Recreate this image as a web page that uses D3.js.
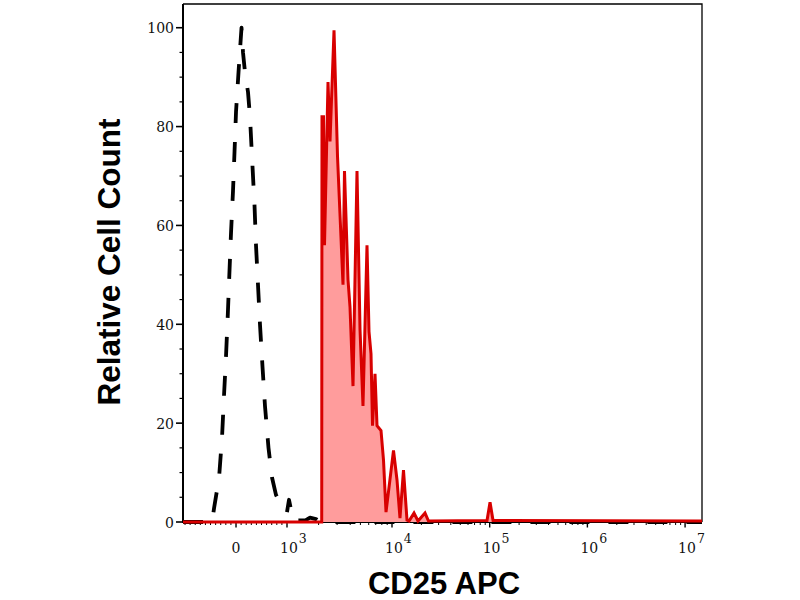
<!DOCTYPE html>
<html>
<head>
  <meta charset="utf-8">
  <title>CD25 APC histogram</title>
  <script src="https://d3js.org/d3.v7.min.js"></script>
  <style>
    body { margin: 0; background: #fff; }
    .tick text { font: 14px "DejaVu Serif", serif; fill: #111; }
    .title { font-family: "Liberation Sans", Arial, sans-serif; font-weight: bold; fill: #000; }
  </style>
</head>
<body>
  <svg width="800" height="600"></svg>
  <script>
    // isotype control (black dashed), x in fluorescence units, y in % of max
    const isoX = [-1040, -470, -431, -333, -274, -235, -196, -161, -131, -98, -59, -29, 0, 49, 88, 108,
      137, 176, 235, 274, 323, 363, 392, 431, 470, 519, 568, 637, 706, 784, 902, 1000, 1045, 1092,
      1142, 1484, 1656, 1888, 2062, 1.49e7];
    const isoY = [0, 0, 2.8, 8.9, 17.2, 25.7, 33.6, 42, 50, 58.5, 67, 75, 83, 91, 97, 100,
      95, 91, 87, 82, 72, 64, 56, 48, 40, 31.5, 23.5, 15, 9, 5.5, 3, 2, 4.5, 2.5,
      0.3, 0.3, 0.9, 0.6, 0, 0];

    // CD25 APC stained cells (red filled)
    const cd25X = [-1040, 2141, 2154, 2226, 2276, 2458, 2568, 2804, 3027, 3415, 3528, 3811, 3981, 4253,
      4642, 4958, 5294, 5780, 6039, 6310, 6522, 6889, 7197, 7858, 8300, 8769, 10360, 11250, 12070,
      13110, 14240, 14930, 16800, 18460, 21770, 23640, 93900, 100800, 108200, 1.49e7];
    const cd25Y = [0, 0, 82, 82, 56, 89, 77, 99.5, 74, 48, 71, 49, 43.5, 27.5,
      71, 39, 23.5, 56, 38.5, 34, 19.5, 30, 19.5, 18.5, 12.5, 2, 14.5, 8.5, 0.8,
      10.5, 0.4, 0.2, 1.8, 0.2, 1.8, 0.2, 0.3, 4, 0.3, 0.2];

    const xMajor = [0, 1e3, 1e4, 1e5, 1e6, 1e7];
    const xExp = [null, 3, 4, 5, 6, 7];
    const yMajor = [0, 20, 40, 60, 80, 100];

    const svg = d3.select("svg");
    const mLeft = 183, mRight = 702, mTop = 4, mBottom = 522;

    // biexponential-like display: linear around zero, log above 10^3
    const xLin = d3.scaleLinear().domain([-1040, 1000]).range([mLeft, 287]);
    const xLog = d3.scaleLog().domain([1e3, 1e4, 1.49e7]).range([287, 392, mRight]);
    const x = v => v < 1000 ? xLin(v) : xLog(v);
    const y = d3.scaleLinear().domain([0, 104.8]).range([mBottom, mTop]);

    // frame
    svg.append("path")
      .attr("d", `M${mLeft},${mTop}H${mRight}V${mBottom}`)
      .attr("fill", "none").attr("stroke", "#000").attr("stroke-width", 1.3);

    // y axis
    const gy = svg.append("g");
    gy.append("line").attr("x1", mLeft).attr("x2", mLeft).attr("y1", mTop).attr("y2", mBottom + 1)
      .attr("stroke", "#000").attr("stroke-width", 2);
    gy.selectAll(".minor").data(d3.range(0, 105, 5).filter(d => d % 20)).enter().append("line")
      .attr("x1", mLeft - 3.5).attr("x2", mLeft).attr("y1", d => y(d)).attr("y2", d => y(d))
      .attr("stroke", "#000").attr("stroke-width", 1.2);
    const yt = gy.selectAll(".tick").data(yMajor).enter().append("g").attr("class", "tick")
      .attr("transform", d => `translate(0,${y(d)})`);
    yt.append("line").attr("x1", mLeft - 7).attr("x2", mLeft).attr("stroke", "#000").attr("stroke-width", 1.6);
    yt.append("text").attr("x", mLeft - 9).attr("dy", "0.4em").attr("text-anchor", "end").text(d => d);

    // x axis
    const gx = svg.append("g");
    gx.append("line").attr("x1", mLeft - 1).attr("x2", mRight).attr("y1", mBottom).attr("y2", mBottom)
      .attr("stroke", "#000").attr("stroke-width", 2);
    const minorX = d3.range(-1000, 1000, 100).filter(d => d !== 0);
    for (let k = 3; k < 7; k++) for (let m = 2; m < 10; m++) minorX.push(m * Math.pow(10, k));
    gx.selectAll(".minor").data(minorX).enter().append("line")
      .attr("x1", d => x(d)).attr("x2", d => x(d)).attr("y1", mBottom).attr("y2", mBottom + 3)
      .attr("stroke", "#000").attr("stroke-width", 1);
    const xt = gx.selectAll(".tick").data(xMajor).enter().append("g").attr("class", "tick")
      .attr("transform", d => `translate(${x(d)},${mBottom})`);
    xt.append("line").attr("y1", 0).attr("y2", 5.5).attr("stroke", "#000").attr("stroke-width", 1.4);
    xt.each(function (d, i) {
      const t = d3.select(this).append("text").attr("y", 31);
      if (xExp[i] === null) {
        t.attr("text-anchor", "middle").text("0");
      } else {
        t.attr("x", -7).append("tspan").text("10");
        t.append("tspan").attr("dy", -10).attr("dx", 1).style("font-size", "12.5px").text(xExp[i]);
      }
    });

    // isotype: dashed black line
    const isoData = isoX.map((v, i) => [v, isoY[i]]);
    svg.append("path").datum(isoData)
      .attr("d", d3.line().x(d => x(d[0])).y(d => y(d[1])))
      .attr("fill", "none").attr("stroke", "#000").attr("stroke-width", 3.8)
      .attr("stroke-dasharray", "20,19").attr("stroke-linejoin", "round");

    // CD25 stained: filled red histogram
    const cdData = cd25X.map((v, i) => [v, cd25Y[i]]);
    svg.append("path").datum(cdData)
      .attr("d", d3.area().x(d => x(d[0])).y0(y(0)).y1(d => y(d[1])))
      .attr("fill", "#ff9c9c");
    svg.append("path").datum(cdData)
      .attr("d", d3.line().x(d => x(d[0])).y(d => y(d[1])))
      .attr("fill", "none").attr("stroke", "#d80000").attr("stroke-width", 3)
      .attr("stroke-linejoin", "miter");

    // titles
    svg.append("text").attr("class", "title").style("font-size", "31px")
      .attr("x", 444).attr("y", 594).attr("text-anchor", "middle").text("CD25 APC");
    svg.append("text").attr("class", "title").style("font-size", "31.5px").attr("text-anchor", "middle")
      .attr("transform", "translate(120,262) rotate(-90)").text("Relative Cell Count");
  </script>
</body>
</html>
